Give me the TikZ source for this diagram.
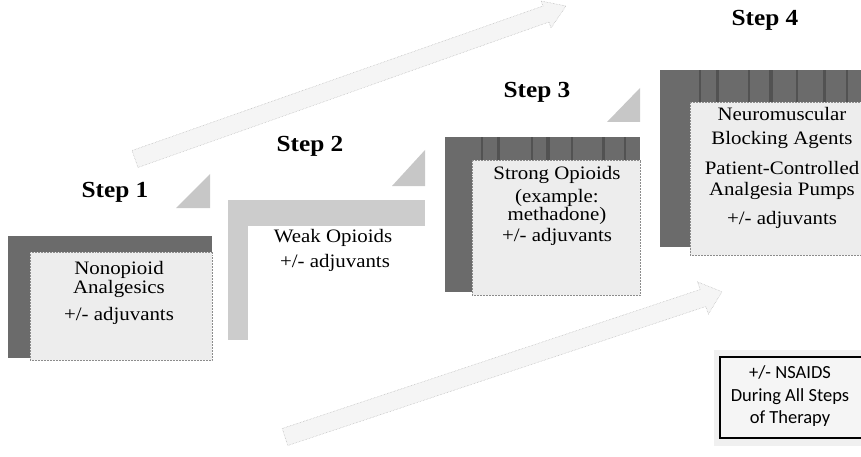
\documentclass[tikz,border=0pt]{standalone}
\usepackage{fontspec}
\setmainfont[FakeStretch=1.1]{Liberation Serif}
\newfontfamily\calfont{Carlito}
\begin{document}
\begin{tikzpicture}[x=1pt,y=-1pt,
  darkbar/.style={fill=black!58},
  stripe/.style={fill=black!68},
  lightbar/.style={fill=black!20},
  innerbox/.style={fill=black!7, draw=black!45, densely dotted, line width=0.5pt},
  steplabel/.style={font=\bfseries\fontsize{23}{26}\selectfont, inner sep=0pt},
  boxtext/.style={font=\fontsize{19}{21}\selectfont, inner sep=0pt, text height=0.7em, text depth=0.25em},
  nstext/.style={font=\calfont\fontsize{18.5}{21}\selectfont, inner sep=0pt, text height=0.7em, text depth=0.25em},
  tri/.style={fill=black!22},
  band/.style={fill=black!4, draw=black!30, densely dotted, line width=0.5pt}]
\useasboundingbox (0,0) rectangle (861,457);
\clip (0,0) rectangle (861,457);

% diagonal bands
\draw[band] (138,167.5) -- (549,22) -- (551,28) -- (566,6) -- (541,1) -- (543,6) -- (132,150.5) -- cycle;
\draw[band] (287.8,445.5) -- (705.8,306.5) -- (708.4,314.1) -- (722,291.7) -- (697.6,281.9) -- (700.2,289.5) -- (282.2,428.5) -- cycle;

% Step 1
\draw[innerbox] (30,252) rectangle (212,360);
\fill[darkbar] (8,236) rectangle (212,252);
\fill[darkbar] (8,236) rectangle (30,358);
\fill[tri] (176,208) -- (210,208) -- (210,174) -- cycle;
\node[steplabel] (s1) at (115,192) {Step 1};
\node[boxtext] (s1a) at (119,272) {Nonopioid};
\node[boxtext] (s1b) at (119,291) {Analgesics};
\node[boxtext] (s1c) at (119,318) {+/- adjuvants};

% Step 2
\fill[lightbar] (228,200) rectangle (425,226);
\fill[lightbar] (228,200) rectangle (248,340);
\fill[tri] (392,186) -- (425,186) -- (425,150) -- cycle;
\node[steplabel] (s2) at (310,146) {Step 2};
\node[boxtext] (s2a) at (333,240) {Weak Opioids};
\node[boxtext] (s2b) at (335,265) {+/- adjuvants};

% Step 3
\draw[innerbox] (472,160) rectangle (640,295);
\fill[darkbar] (445,137) rectangle (640,160);
\fill[darkbar] (445,137) rectangle (472,292);
\foreach \sx/\sw in {481/2,497/3,531/2,546/4,571/2,602/3,624/2} {\fill[stripe] (\sx,137) rectangle ++(\sw,23);}
\fill[tri] (607,122) -- (640,122) -- (640,88) -- cycle;
\node[steplabel] (s3) at (537,92) {Step 3};
\node[boxtext] (s3a) at (557,177) {Strong Opioids};
\node[boxtext] (s3b) at (557,200) {(example:};
\node[boxtext] (s3c) at (557,218) {methadone)};
\node[boxtext] (s3d) at (557,239) {+/- adjuvants};

% Step 4
\draw[innerbox] (690,102) rectangle (870,255);
\fill[darkbar] (660,70) rectangle (870,102);
\fill[darkbar] (660,70) rectangle (690,247);
\foreach \sx/\sw in {699/2,716/3,748/2,769/4,796/2,823/3,846/2} {\fill[stripe] (\sx,70) rectangle ++(\sw,32);}
\node[steplabel] (s4) at (765,20) {Step 4};
\node[boxtext] (s4a) at (782,118) {Neuromuscular};
\node[boxtext] (s4b) at (782,142) {Blocking Agents};
\node[boxtext] (s4c) at (782,172) {Patient-Controlled};
\node[boxtext] (s4d) at (782,193) {Analgesia Pumps};
\node[boxtext] (s4e) at (782,222) {+/- adjuvants};

% NSAIDS box
\fill[black!6] (714,350) rectangle (870,446);
\draw[line width=1.4pt, fill=black!4] (720,357) rectangle (866,438);
\node[nstext] (n1) at (790,376) {+/- NSAIDS};
\node[nstext] (n2) at (790,399) {During All Steps};
\node[nstext] (n3) at (790,421) {of Therapy};
\end{tikzpicture}
\end{document}
